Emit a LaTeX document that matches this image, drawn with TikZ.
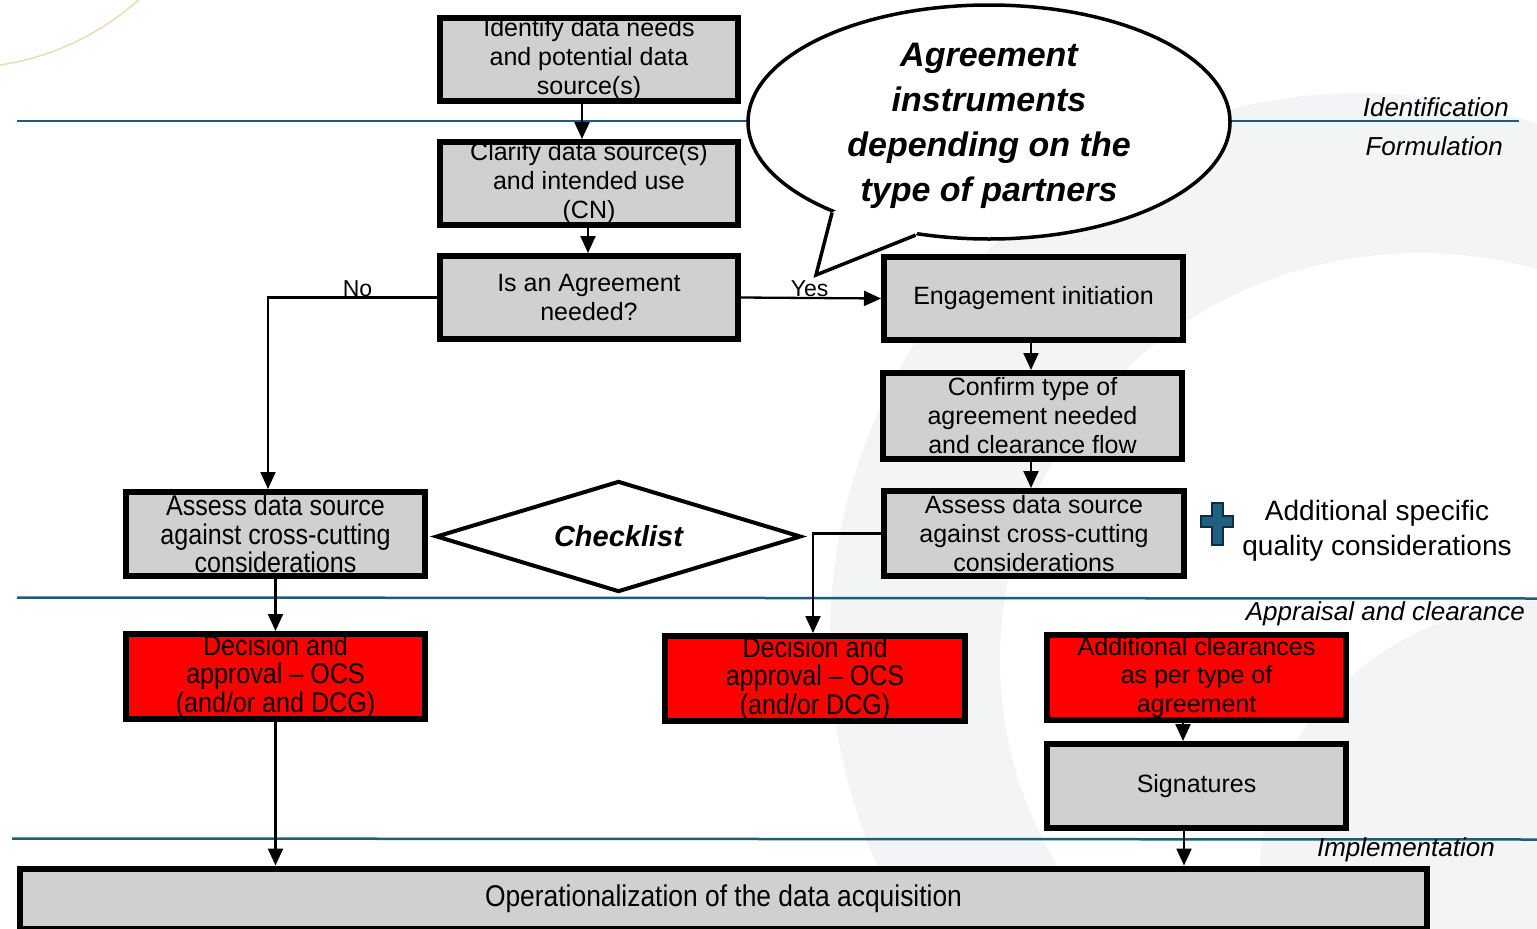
\documentclass[tikz,border=0pt]{standalone}
\usepackage{fontspec}
\setmainfont{Liberation Sans}
\newfontfamily\narrowfont[FakeStretch=0.88,Ligatures=TeX]{Liberation Sans}
\usetikzlibrary{arrows.meta,shapes.geometric}
\definecolor{boxgrey}{HTML}{D0D0D0}
\definecolor{seplinec}{HTML}{1C5C7C}
\definecolor{ringgrey}{HTML}{F3F4F6}
\definecolor{creamc}{HTML}{EADCB5}
\definecolor{plusfill}{HTML}{1F5F80}
\definecolor{plusedge}{HTML}{0B2E45}
\begin{document}
\begin{tikzpicture}[x=1pt,y=-1pt,
  stepbox/.style={draw=black, line width=6pt, fill=boxgrey, inner sep=0pt, align=center,
    minimum width=299pt, minimum height=84pt, font=\fontsize{25}{29}\selectfont},
  redbox/.style={stepbox, fill=red},
  narrowtext/.style={font=\narrowfont\fontsize{28.5}{28.5}\selectfont},
  conn/.style={line width=2.3pt, draw=black},
  arr/.style={conn, -{Triangle[length=17pt,width=15pt]}},
  sepline/.style={draw=seplinec, line width=2.5pt},
  phase/.style={font=\itshape\fontsize{26}{30}\selectfont, inner sep=0pt, anchor=east},
  lbl/.style={font=\fontsize{23}{26}\selectfont, inner sep=0pt, above},
]
\path[use as bounding box] (0,0) rectangle (1537,929);
% background decoration
\begin{scope}
  \clip (0,0) rectangle (1537,929);
  \fill[ringgrey] (1360,640) ellipse [x radius=530, y radius=547];
  \fill[white] (1420,660) ellipse [x radius=420, y radius=407];
  \fill[ringgrey] (1560,870) ellipse [x radius=300, y radius=270];
  \draw[creamc, line width=1.5pt] (-40,-200) circle [radius=268];
\end{scope}
% phase separators
\draw[sepline] (17,121) -- (1519,121);
\draw[sepline] (17,597.5) -- (1537,598.5);
\draw[sepline] (12,838.5) -- (1537,839.5);
\node[phase] (pid) at (1509,107) {Identification};
\node[phase] (pform) at (1503,146) {Formulation};
\node[phase] (papp) at (1525,614) {Appraisal and clearance};
\node[phase] (pimp) at (1495,850) {Implementation};
% boxes
\node[stepbox, minimum width=298pt, minimum height=83pt] (B1) at (589,59.5) {Identify data needs\\and potential data\\source(s)};
\node[stepbox, minimum width=298pt, minimum height=83pt] (B2) at (589,183.5) {Clarify data source(s)\\and intended use\\(CN)};
\node[stepbox, minimum width=298pt, minimum height=83pt] (B3) at (589,297.5) {Is an Agreement\\needed?};
\node[stepbox, minimum height=83pt] (B4) at (1033.5,298.5) {Engagement initiation};
\node[stepbox, minimum height=86pt] (B5) at (1032.5,416) {Confirm type of\\agreement needed\\and clearance flow};
\node[stepbox, minimum width=300pt, minimum height=85pt] (B6) at (1034,533.5) {Assess data source\\against cross-cutting\\considerations};
\node[stepbox, narrowtext] (B7) at (275.5,534) {Assess data source\\against cross-cutting\\considerations};
\node[draw=black, line width=4pt, fill=white, shape=diamond, aspect=3.3, inner sep=0pt,
  minimum width=365pt, minimum height=111pt, font=\bfseries\itshape\fontsize{29}{32}\selectfont] (CK) at (618.5,536.5) {Checklist};
\node[redbox, narrowtext, minimum height=85pt] (R1) at (275.5,676.5) {Decision and\\approval – OCS\\(and/or and DCG)};
\node[redbox, narrowtext, minimum width=300pt, minimum height=85pt] (R2) at (815,678.5) {Decision and\\approval – OCS\\(and/or DCG)};
\node[redbox, minimum height=85pt, font=\fontsize{25}{28.5}\selectfont] (R3) at (1196.5,677.5) {Additional clearances\\as per type of\\agreement};
\node[stepbox] (B8) at (1196.5,786) {Signatures};
\node[stepbox, minimum width=1407pt, minimum height=60pt, font=\narrowfont\fontsize{30}{30}\selectfont] (B9) at (723.5,898.5) {Operationalization of the data acquisition};
% plus sign and note
\filldraw[fill=plusfill, draw=plusedge, line width=2pt, line join=miter]
  (1211.5,503) -- (1222.5,503) -- (1222.5,515.5) -- (1233,515.5) -- (1233,526.5) -- (1222.5,526.5)
  -- (1222.5,545) -- (1211.5,545) -- (1211.5,526.5) -- (1201,526.5) -- (1201,515.5) -- (1211.5,515.5) -- cycle;
\node[align=center, inner sep=0pt, font=\fontsize{28}{35}\selectfont] (note) at (1377,531) {Additional specific\\quality considerations};
% speech bubble
\node[draw=black, line width=3.5pt, fill=white, shape=ellipse, inner sep=0pt,
  minimum width=482pt, minimum height=234pt] (bubble) at (989,122) {};
\coordinate (tip) at (816,275);
\fill[white] (bubble.210.6) -- (tip) -- (bubble.237.2) -- (bubble.center) -- cycle;
\draw[line width=3.5pt, line join=miter] (bubble.210.6) -- (tip) -- (bubble.237.2);
\node[align=center, inner sep=0pt, font=\bfseries\itshape\fontsize{34}{45}\selectfont] (btext) at (989,126)
  {Agreement\\instruments\\depending on the\\type of partners};
% connectors
\draw[arr] ([xshift=-7pt]B1.south) -- ([xshift=-7pt]B2.north);
\draw[arr] ([xshift=-1pt]B2.south) -- ([xshift=-1pt]B3.north);
\draw[arr] (B3.west) -| node[lbl, pos=0.235] {No} ([xshift=-7.5pt]B7.north);
\draw[arr] (B3.east) -- node[lbl, pos=0.49] {Yes} (B4.west);
\draw[arr] ([xshift=-2.5pt]B4.south) -- ([xshift=-2.5pt]B4.south |- B5.north);
\draw[arr] ([xshift=-1.5pt]B5.south) -- ([xshift=-1.5pt]B5.south |- B6.north);
\draw[arr] (B6.west) -| ([xshift=-2pt]R2.north);
\draw[arr] (B7.south) -- (R1.north);
\draw[arr] (R1.south) -- (R1.south |- B9.north);
\draw[arr] ([xshift=-13.5pt]R3.south) -- ([xshift=-13.5pt]B8.north);
\draw[arr] ([xshift=-12.5pt]B8.south) -- ([xshift=-12.5pt]B8.south |- B9.north);
\end{tikzpicture}
\end{document}
